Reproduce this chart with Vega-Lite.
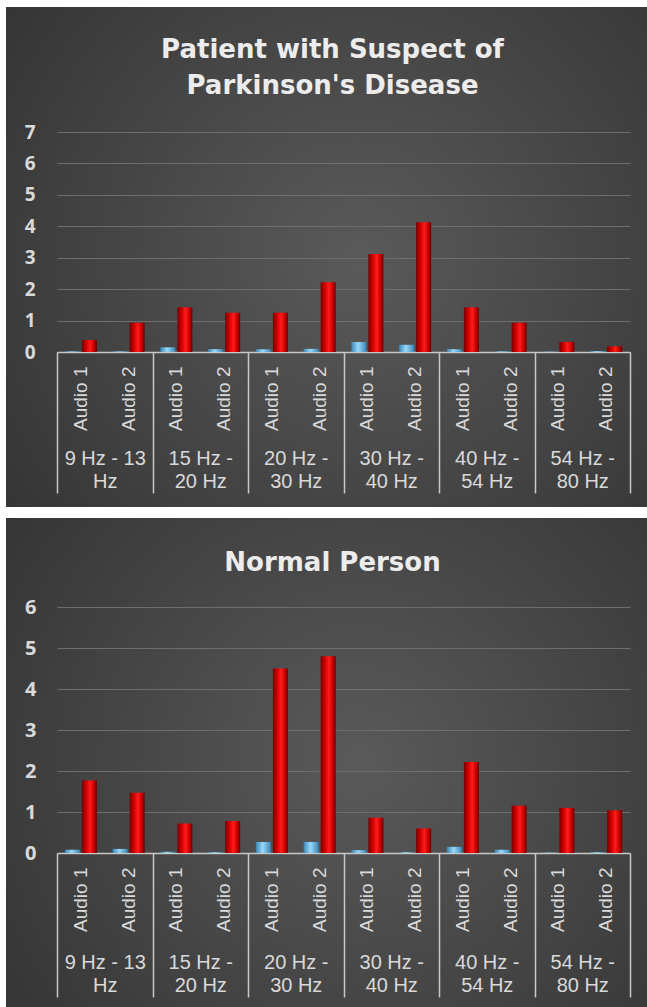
{
  "$schema": "https://vega.github.io/schema/vega-lite/v6.json",
  "background": "white",
  "padding": {"top": 7, "left": 6, "right": 0, "bottom": 0},
  "spacing": 11,
  "config": {
    "view": {
      "stroke": null,
      "fill": {"gradient": "radial", "x1": 0.55, "y1": 0.5, "r1": 0, "x2": 0.55, "y2": 0.5, "r2": 0.8,
        "stops": [{"offset": 0, "color": "#5a5a5a"}, {"offset": 1, "color": "#2e2e2e"}]}
    }
  },
  "datasets": {
    "top": [
      {"g": "9 Hz - 13 Hz", "slot": "9 Hz - 13 Hz|Audio 1", "s": "S1", "v": 0.02},
      {"g": "9 Hz - 13 Hz", "slot": "9 Hz - 13 Hz|Audio 1", "s": "S2", "v": 0.38},
      {"g": "9 Hz - 13 Hz", "slot": "9 Hz - 13 Hz|Audio 2", "s": "S1", "v": 0.02},
      {"g": "9 Hz - 13 Hz", "slot": "9 Hz - 13 Hz|Audio 2", "s": "S2", "v": 0.93},
      {"g": "15 Hz - 20 Hz", "slot": "15 Hz - 20 Hz|Audio 1", "s": "S1", "v": 0.15},
      {"g": "15 Hz - 20 Hz", "slot": "15 Hz - 20 Hz|Audio 1", "s": "S2", "v": 1.42},
      {"g": "15 Hz - 20 Hz", "slot": "15 Hz - 20 Hz|Audio 2", "s": "S1", "v": 0.09},
      {"g": "15 Hz - 20 Hz", "slot": "15 Hz - 20 Hz|Audio 2", "s": "S2", "v": 1.25},
      {"g": "20 Hz - 30 Hz", "slot": "20 Hz - 30 Hz|Audio 1", "s": "S1", "v": 0.09},
      {"g": "20 Hz - 30 Hz", "slot": "20 Hz - 30 Hz|Audio 1", "s": "S2", "v": 1.25},
      {"g": "20 Hz - 30 Hz", "slot": "20 Hz - 30 Hz|Audio 2", "s": "S1", "v": 0.1},
      {"g": "20 Hz - 30 Hz", "slot": "20 Hz - 30 Hz|Audio 2", "s": "S2", "v": 2.22},
      {"g": "30 Hz - 40 Hz", "slot": "30 Hz - 40 Hz|Audio 1", "s": "S1", "v": 0.32},
      {"g": "30 Hz - 40 Hz", "slot": "30 Hz - 40 Hz|Audio 1", "s": "S2", "v": 3.12},
      {"g": "30 Hz - 40 Hz", "slot": "30 Hz - 40 Hz|Audio 2", "s": "S1", "v": 0.23},
      {"g": "30 Hz - 40 Hz", "slot": "30 Hz - 40 Hz|Audio 2", "s": "S2", "v": 4.13},
      {"g": "40 Hz - 54 Hz", "slot": "40 Hz - 54 Hz|Audio 1", "s": "S1", "v": 0.09},
      {"g": "40 Hz - 54 Hz", "slot": "40 Hz - 54 Hz|Audio 1", "s": "S2", "v": 1.42},
      {"g": "40 Hz - 54 Hz", "slot": "40 Hz - 54 Hz|Audio 2", "s": "S1", "v": 0.02},
      {"g": "40 Hz - 54 Hz", "slot": "40 Hz - 54 Hz|Audio 2", "s": "S2", "v": 0.93},
      {"g": "54 Hz - 80 Hz", "slot": "54 Hz - 80 Hz|Audio 1", "s": "S1", "v": 0.01},
      {"g": "54 Hz - 80 Hz", "slot": "54 Hz - 80 Hz|Audio 1", "s": "S2", "v": 0.32},
      {"g": "54 Hz - 80 Hz", "slot": "54 Hz - 80 Hz|Audio 2", "s": "S1", "v": 0.03},
      {"g": "54 Hz - 80 Hz", "slot": "54 Hz - 80 Hz|Audio 2", "s": "S2", "v": 0.18}
    ],
    "bot": [
      {"g": "9 Hz - 13 Hz", "slot": "9 Hz - 13 Hz|Audio 1", "s": "S1", "v": 0.08},
      {"g": "9 Hz - 13 Hz", "slot": "9 Hz - 13 Hz|Audio 1", "s": "S2", "v": 1.77},
      {"g": "9 Hz - 13 Hz", "slot": "9 Hz - 13 Hz|Audio 2", "s": "S1", "v": 0.1},
      {"g": "9 Hz - 13 Hz", "slot": "9 Hz - 13 Hz|Audio 2", "s": "S2", "v": 1.47},
      {"g": "15 Hz - 20 Hz", "slot": "15 Hz - 20 Hz|Audio 1", "s": "S1", "v": 0.03},
      {"g": "15 Hz - 20 Hz", "slot": "15 Hz - 20 Hz|Audio 1", "s": "S2", "v": 0.72},
      {"g": "15 Hz - 20 Hz", "slot": "15 Hz - 20 Hz|Audio 2", "s": "S1", "v": 0.02},
      {"g": "15 Hz - 20 Hz", "slot": "15 Hz - 20 Hz|Audio 2", "s": "S2", "v": 0.78},
      {"g": "20 Hz - 30 Hz", "slot": "20 Hz - 30 Hz|Audio 1", "s": "S1", "v": 0.27},
      {"g": "20 Hz - 30 Hz", "slot": "20 Hz - 30 Hz|Audio 1", "s": "S2", "v": 4.5},
      {"g": "20 Hz - 30 Hz", "slot": "20 Hz - 30 Hz|Audio 2", "s": "S1", "v": 0.27},
      {"g": "20 Hz - 30 Hz", "slot": "20 Hz - 30 Hz|Audio 2", "s": "S2", "v": 4.8},
      {"g": "30 Hz - 40 Hz", "slot": "30 Hz - 40 Hz|Audio 1", "s": "S1", "v": 0.07},
      {"g": "30 Hz - 40 Hz", "slot": "30 Hz - 40 Hz|Audio 1", "s": "S2", "v": 0.86},
      {"g": "30 Hz - 40 Hz", "slot": "30 Hz - 40 Hz|Audio 2", "s": "S1", "v": 0.02},
      {"g": "30 Hz - 40 Hz", "slot": "30 Hz - 40 Hz|Audio 2", "s": "S2", "v": 0.6},
      {"g": "40 Hz - 54 Hz", "slot": "40 Hz - 54 Hz|Audio 1", "s": "S1", "v": 0.15},
      {"g": "40 Hz - 54 Hz", "slot": "40 Hz - 54 Hz|Audio 1", "s": "S2", "v": 2.22},
      {"g": "40 Hz - 54 Hz", "slot": "40 Hz - 54 Hz|Audio 2", "s": "S1", "v": 0.08},
      {"g": "40 Hz - 54 Hz", "slot": "40 Hz - 54 Hz|Audio 2", "s": "S2", "v": 1.15},
      {"g": "54 Hz - 80 Hz", "slot": "54 Hz - 80 Hz|Audio 1", "s": "S1", "v": 0.01},
      {"g": "54 Hz - 80 Hz", "slot": "54 Hz - 80 Hz|Audio 1", "s": "S2", "v": 1.1},
      {"g": "54 Hz - 80 Hz", "slot": "54 Hz - 80 Hz|Audio 2", "s": "S1", "v": 0.02},
      {"g": "54 Hz - 80 Hz", "slot": "54 Hz - 80 Hz|Audio 2", "s": "S2", "v": 1.04}
    ]
  },
  "vconcat": [
    {
      "width": 641,
      "height": 500,
      "title": {"text": ["Patient with Suspect of", "Parkinson's Disease"], "offset": -92, "dx": 6, "anchor": "middle",
        "font": "DejaVu Sans", "fontSize": 26, "fontWeight": "bold", "color": "#ececec", "lineHeight": 36},
      "data": {"name": "top"},
      "layer": [
        {
          "encoding": {
            "x": {"field": "slot", "type": "nominal", "sort": null,
              "scale": {"range": [51, 624], "paddingInner": 0, "paddingOuter": 0},
              "axis": {"orient": "bottom", "offset": -155, "title": null, "labelExpr": "split(datum.label, '|')[1]",
                "labelAngle": 270, "labelPadding": 14, "labelFont": "Liberation Sans", "labelFontSize": 19,
                "labelColor": "#d9d9d9", "ticks": false, "grid": false, "domain": true, "domainColor": "#c8c8c8", "domainWidth": 1.5}},
            "xOffset": {"field": "s", "type": "nominal", "scale": {"domain": ["S1", "S2"], "paddingInner": 0.12, "paddingOuter": 0.46}},
            "y": {"field": "v", "type": "quantitative",
              "scale": {"domain": [0, 7], "range": [345, 125], "nice": false, "zero": true},
              "axis": {"orient": "left", "offset": -51, "title": null, "values": [0, 1, 2, 3, 4, 5, 6, 7],
                "domain": false, "ticks": false, "grid": true, "gridColor": "#6e6e6e", "gridWidth": 1,
                "labelPadding": 22, "labelFont": "Open Sans", "labelFontWeight": "bold", "labelFontSize": 19, "labelColor": "#d9d9d9"}}
          },
          "layer": [
            {"transform": [{"filter": "datum.s === 'S1'"}],
              "mark": {"type": "bar", "fill": {"gradient": "linear", "x1": 0, "y1": 0, "x2": 1, "y2": 0,
                "stops": [{"offset": 0, "color": "#3a86b5"}, {"offset": 0.45, "color": "#9ad8fa"}, {"offset": 1, "color": "#3a86b5"}]}}},
            {"transform": [{"filter": "datum.s === 'S2'"}],
              "mark": {"type": "bar", "fill": {"gradient": "linear", "x1": 0, "y1": 0, "x2": 1, "y2": 0,
                "stops": [{"offset": 0, "color": "#760000"}, {"offset": 0.3, "color": "#d40000"}, {"offset": 0.55, "color": "#ff1c1c"}, {"offset": 0.8, "color": "#c80000"}, {"offset": 1, "color": "#6a0000"}]}}}
          ]
        },
        {
          "mark": {"type": "bar", "opacity": 0},
          "encoding": {
            "x": {"field": "g", "type": "nominal", "sort": null,
              "scale": {"range": [51, 624], "paddingInner": 0, "paddingOuter": 0},
              "axis": {"orient": "bottom", "offset": -155, "title": null, "domain": false, "grid": false,
                "ticks": true, "tickBand": "extent", "tickSize": 141, "tickColor": "#c8c8c8", "tickWidth": 1.5,
                "labelAngle": 0, "labelPadding": -45, "labelFont": "Liberation Sans", "labelFontSize": 20,
                "labelLineHeight": 23, "labelColor": "#d9d9d9",
                "labelExpr": "indexof(datum.label, '9 Hz') == 0 ? ['9 Hz - 13', 'Hz'] : split(replace(datum.label, ' - ', ' -|'), '|')"}}
          }
        }
      ],
      "resolve": {"scale": {"x": "independent"}, "axis": {"x": "independent"}}
    },
    {
      "width": 641,
      "height": 489,
      "title": {"text": "Normal Person", "offset": -58, "dx": 6, "anchor": "middle",
        "font": "DejaVu Sans", "fontSize": 26, "fontWeight": "bold", "color": "#ececec"},
      "data": {"name": "bot"},
      "layer": [
        {
          "encoding": {
            "x": {"field": "slot", "type": "nominal", "sort": null,
              "scale": {"range": [51, 624], "paddingInner": 0, "paddingOuter": 0},
              "axis": {"orient": "bottom", "offset": -154, "title": null, "labelExpr": "split(datum.label, '|')[1]",
                "labelAngle": 270, "labelPadding": 14, "labelFont": "Liberation Sans", "labelFontSize": 19,
                "labelColor": "#d9d9d9", "ticks": false, "grid": false, "domain": true, "domainColor": "#c8c8c8", "domainWidth": 1.5}},
            "xOffset": {"field": "s", "type": "nominal", "scale": {"domain": ["S1", "S2"], "paddingInner": 0.12, "paddingOuter": 0.46}},
            "y": {"field": "v", "type": "quantitative",
              "scale": {"domain": [0, 6], "range": [335, 89], "nice": false, "zero": true},
              "axis": {"orient": "left", "offset": -51, "title": null, "values": [0, 1, 2, 3, 4, 5, 6],
                "domain": false, "ticks": false, "grid": true, "gridColor": "#6e6e6e", "gridWidth": 1,
                "labelPadding": 21, "labelFont": "Open Sans", "labelFontWeight": "bold", "labelFontSize": 20, "labelColor": "#d9d9d9"}}
          },
          "layer": [
            {"transform": [{"filter": "datum.s === 'S1'"}],
              "mark": {"type": "bar", "fill": {"gradient": "linear", "x1": 0, "y1": 0, "x2": 1, "y2": 0,
                "stops": [{"offset": 0, "color": "#3a86b5"}, {"offset": 0.45, "color": "#9ad8fa"}, {"offset": 1, "color": "#3a86b5"}]}}},
            {"transform": [{"filter": "datum.s === 'S2'"}],
              "mark": {"type": "bar", "fill": {"gradient": "linear", "x1": 0, "y1": 0, "x2": 1, "y2": 0,
                "stops": [{"offset": 0, "color": "#760000"}, {"offset": 0.3, "color": "#d40000"}, {"offset": 0.55, "color": "#ff1c1c"}, {"offset": 0.8, "color": "#c80000"}, {"offset": 1, "color": "#6a0000"}]}}}
          ]
        },
        {
          "mark": {"type": "bar", "opacity": 0},
          "encoding": {
            "x": {"field": "g", "type": "nominal", "sort": null,
              "scale": {"range": [51, 624], "paddingInner": 0, "paddingOuter": 0},
              "axis": {"orient": "bottom", "offset": -154, "title": null, "domain": false, "grid": false,
                "ticks": true, "tickBand": "extent", "tickSize": 144, "tickColor": "#c8c8c8", "tickWidth": 1.5,
                "labelAngle": 0, "labelPadding": -45, "labelFont": "Liberation Sans", "labelFontSize": 20,
                "labelLineHeight": 23, "labelColor": "#d9d9d9",
                "labelExpr": "indexof(datum.label, '9 Hz') == 0 ? ['9 Hz - 13', 'Hz'] : split(replace(datum.label, ' - ', ' -|'), '|')"}}
          }
        }
      ],
      "resolve": {"scale": {"x": "independent"}, "axis": {"x": "independent"}}
    }
  ]
}
